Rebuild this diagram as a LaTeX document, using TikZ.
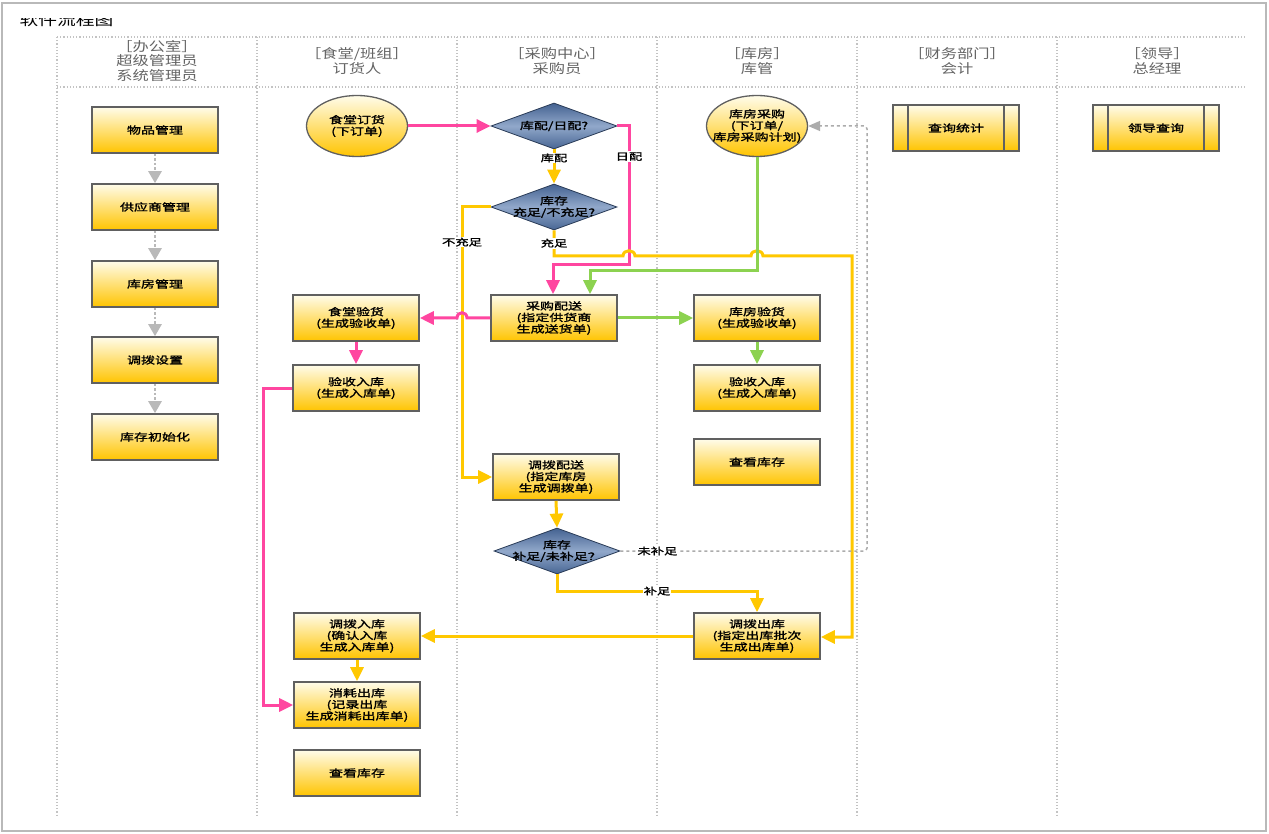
\documentclass[tikz,border=0pt]{standalone}
\usepackage{fontspec}
\setmainfont{Noto Sans CJK SC}
\newfontfamily\boxfont[FakeStretch=1.4,FakeBold=1.6]{Noto Sans CJK SC}
\newfontfamily\lanefont[FakeStretch=1.25]{Noto Sans CJK SC}
\usepackage{xcolor}
\usepackage{tikz}
\usetikzlibrary{arrows.meta,shapes.geometric}

\definecolor{flowpink}{RGB}{255,70,160}
\definecolor{flowyellow}{RGB}{255,200,0}
\definecolor{flowgreen}{RGB}{140,210,80}
\definecolor{boxtop}{RGB}{255,252,234}
\definecolor{boxbot}{RGB}{255,196,0}
\definecolor{dmdtop}{RGB}{68,98,145}
\definecolor{dmdmid}{RGB}{145,168,202}
\definecolor{dmdbot}{RGB}{72,102,148}
\definecolor{lanegray}{RGB}{195,195,195}
\definecolor{headgray}{RGB}{100,100,100}

\begin{document}
\begin{tikzpicture}[x=1pt,y=-1pt,>={Triangle[length=14pt,width=13pt]},
            line join=miter]
        \tikzstyle{task}=[rectangle,draw=gray!75!black,line width=1.6pt,top color=boxtop,bottom color=boxbot,
            minimum width=126pt,minimum height=46pt,inner sep=1pt,align=center,
            font=\boxfont\fontsize{10}{11.5}\selectfont]
        \tikzstyle{event}=[ellipse,draw=gray!75!black,line width=1.3pt,top color=boxtop,bottom color=boxbot,
            minimum width=101pt,minimum height=61pt,inner sep=0pt]
        \tikzstyle{decision}=[diamond,draw=dmdtop!60!black,line width=0.8pt,top color=dmdtop,bottom color=dmdbot,
            middle color=dmdmid,minimum width=126pt,minimum height=46pt,inner sep=0pt]
        \tikzstyle{inside}=[align=center,inner sep=0pt,font=\boxfont\fontsize{10}{11.5}\selectfont]
        \tikzstyle{report}=[task,path picture={
            \draw[gray!75!black,line width=1.6pt] ([xshift=15pt]path picture bounding box.north west) -- ([xshift=15pt]path picture bounding box.south west);
            \draw[gray!75!black,line width=1.6pt] ([xshift=-15pt]path picture bounding box.north east) -- ([xshift=-15pt]path picture bounding box.south east);}]
        \tikzstyle{lanehead}=[align=center,text=headgray,font=\lanefont\fontsize{13}{14.5}\selectfont]
        \tikzstyle{laneline}=[lanegray,line width=1.2pt,dotted]
        \tikzstyle{pinkline}=[->,draw=flowpink,line width=3pt]
        \tikzstyle{yellowline}=[->,draw=flowyellow,line width=3pt]
        \tikzstyle{greenline}=[->,draw=flowgreen,line width=3pt]
        \tikzstyle{setupline}=[-{Triangle[length=12pt,width=13pt]},draw=gray!55,line width=2.5pt,dotted]
        \tikzstyle{backline}=[-{Triangle[length=12pt,width=10pt]},draw=gray!65,line width=1.5pt,dashed,rounded corners=3pt]
        \tikzstyle{tag}=[fill=white,inner sep=1pt,text=black,font=\boxfont\fontsize{9.5}{10}\selectfont]

        \useasboundingbox (0,0) rectangle (1269,834);
        \fill[white] (0,0) rectangle (1269,834);
        \draw[gray!55,line width=2.5pt] (2,3) rectangle (1266,831);

        % title, cut off at the top
        \begin{scope}
            \clip (0,19) rectangle (300,40);
            \node[anchor=west,font=\lanefont\fontsize{15}{15}\selectfont] (title) at (16,20) {软件流程图};
        \end{scope}

        % swim lanes
        \foreach \x in {57,257,457,657,857,1057}
            \draw[laneline] (\x,37) -- (\x,815);
        \draw[laneline] (57,37) -- (1247,37);
        \draw[laneline] (57,87) -- (1247,87);

        \node[lanehead] (h1) at (157,61) {［办公室］\\超级管理员\\系统管理员};
        \node[lanehead] (h2) at (357,61) {［食堂/班组］\\订货人};
        \node[lanehead] (h3) at (557,61) {［采购中心］\\采购员};
        \node[lanehead] (h4) at (757,61) {［库房］\\库管};
        \node[lanehead] (h5) at (957,61) {［财务部门］\\会计};
        \node[lanehead] (h6) at (1157,61) {［领导］\\总经理};

        % office
        \node[task] (item) at (155,130) {物品管理};
        \node[task] (supp) at (155,207) {供应商管理};
        \node[task] (wh) at (155,284) {库房管理};
        \node[task] (alloc) at (155,360) {调拨设置};
        \node[task] (init) at (155,437) {库存初始化};

        % canteen
        \node[event,label={[inside]center:食堂订货\\(下订单)}] (order) at (357,126) {};
        \node[task] (ckchk) at (356,318) {食堂验货\\(生成验收单)};
        \node[task] (ckin) at (356,388) {验收入库\\(生成入库单)};
        \node[task] (ckrecv) at (357,636) {调拨入库\\(确认入库\\生成入库单)};
        \node[task] (ckout) at (357,705) {消耗出库\\(记录出库\\生成消耗出库单)};
        \node[task] (ckview) at (357,773) {查看库存};

        % purchasing
        \node[decision,label={[inside]center:库配/日配?}] (mode) at (554,126) {};
        \node[decision,label={[inside]center:库存\\充足/不充足?}] (stock) at (554,207) {};
        \node[task] (deliver) at (554,318) {采购配送\\(指定供货商\\生成送货单)};
        \node[task] (transfer) at (556,477) {调拨配送\\(指定库房\\生成调拨单)};
        \node[decision,label={[inside]center:库存\\补足/未补足？}] (refill) at (557,551) {};

        % warehouse
        \node[event,label={[inside]center:库房采购\\(下订单/\\库房采购计划)}] (whbuy) at (757,126) {};
        \node[task] (whchk) at (757,318) {库房验货\\(生成验收单)};
        \node[task] (whin) at (757,388) {验收入库\\(生成入库单)};
        \node[task] (whview) at (757,462) {查看库存};
        \node[task] (whout) at (757,636) {调拨出库\\(指定出库批次\\生成出库单)};

        % finance, leader
        \node[report] (stats) at (956,128) {查询统计};
        \node[report] (boss) at (1156,128) {领导查询};

        \foreach \a/\b in {item/supp,supp/wh,wh/alloc,alloc/init}
            \draw[setupline] (\a.south) -- (\b.north);

        \draw[pinkline] (order.east) -- (mode.west);
        \draw[yellowline] (mode.south) -- node[tag,pos=0.25] {库配} (stock.north);
        \draw[pinkline] (mode.east) -- (629,126) -- node[tag,pos=0.22] {日配} (629,265) -| ([xshift=-1pt]deliver.north);
        \draw[yellowline] (stock.west) -- (462,207) -- node[tag,pos=0.13] {不充足} (462,477) -- (transfer.west);
        \draw[yellowline] (stock.south) -- node[tag] {充足} (554,256) -- (623,256)
            .. controls (623,249) and (635,249) .. (635,256) -- (751,256)
            .. controls (751,249) and (763,249) .. (763,256) -- (852,256) -- (852,637) -- ([yshift=-1pt]whout.east);
        \draw[greenline] (whbuy.south) -- (757,271) -| ([xshift=36pt]deliver.north);
        \draw[pinkline] (deliver.west) -- (467,318)
            .. controls (467,311) and (457,311) .. (457,318) -- (ckchk.east);
        \draw[greenline] (deliver.east) -- (whchk.west);
        \draw[pinkline] (ckchk.south) -- (ckin.north);
        \draw[greenline] (whchk.south) -- (whin.north);
        \draw[pinkline] (ckin.west) -- (263,388) |- (ckout.west);
        \draw[yellowline] (transfer.south) -- (refill.north);
        \draw[yellowline] (refill.south) -- (557,591) -| node[tag,pos=0.25] {补足} (whout.north);
        \draw[backline] (refill.east) -- node[tag,pos=0.15] {未补足} (867,551) -- (867,126) -- (whbuy.east);
        \draw[yellowline] (whout.west) -- (ckrecv.east);
        \draw[yellowline] (ckrecv.south) -- (ckout.north);
    \end{tikzpicture}
\end{document}
